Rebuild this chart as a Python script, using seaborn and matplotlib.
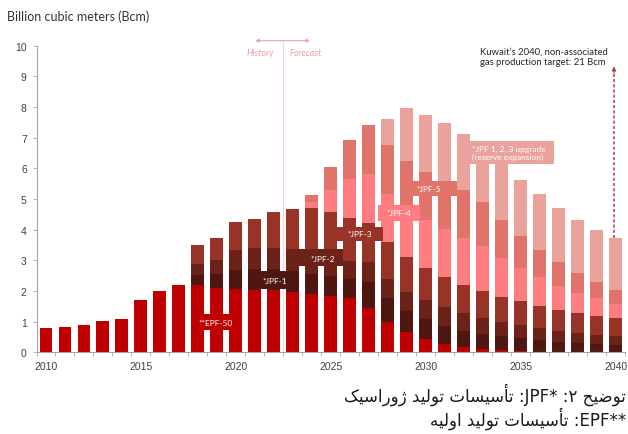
import numpy as np
import pandas as pd
import matplotlib
matplotlib.use("Agg")
import matplotlib.pyplot as plt
from matplotlib.patches import Rectangle
import seaborn as sns

# ---------------------------------------------------------------------------
# Kuwait non-associated gas production by facility, billion cubic meters
# ---------------------------------------------------------------------------
years = [2010, 2011, 2012, 2013, 2014, 2015, 2016, 2017, 2018, 2019, 2020,
         2021, 2022, 2023, 2024, 2025, 2026, 2027, 2028, 2029, 2030,
         2031, 2032, 2033, 2034, 2035, 2036, 2037, 2038, 2039, 2040]

epf_50 = [0.79, 0.83, 0.88, 1.03, 1.07, 1.72, 2.01, 2.21, 2.19, 2.10, 2.06,
          2.04, 2.03, 1.98, 1.90, 1.84, 1.76, 1.43, 0.98, 0.65, 0.43,
          0.27, 0.18, 0.11, 0.08, 0.04, 0.02, 0.00, 0.00, 0.00, 0.00]
jpf_1 = [0, 0, 0, 0, 0, 0, 0, 0, 0.33, 0.44, 0.62,
         0.68, 0.69, 0.64, 0.65, 0.65, 0.63, 0.85, 0.78, 0.71, 0.66,
         0.60, 0.53, 0.49, 0.44, 0.42, 0.38, 0.35, 0.30, 0.27, 0.24]
jpf_2 = [0, 0, 0, 0, 0, 0, 0, 0, 0.36, 0.47, 0.66,
         0.69, 0.69, 0.75, 0.70, 0.61, 0.60, 0.65, 0.63, 0.62, 0.62,
         0.60, 0.57, 0.51, 0.48, 0.43, 0.39, 0.36, 0.32, 0.30, 0.30]
jpf_3 = [0, 0, 0, 0, 0, 0, 0, 0, 0.61, 0.73, 0.92,
         0.93, 1.16, 1.29, 1.46, 1.48, 1.39, 1.29, 1.20, 1.12, 1.03,
         0.98, 0.91, 0.88, 0.81, 0.77, 0.73, 0.68, 0.66, 0.62, 0.57]
jpf_4 = [0, 0, 0, 0, 0, 0, 0, 0, 0, 0, 0,
         0, 0, 0, 0.19, 0.72, 1.27, 1.58, 1.57, 1.60, 1.58,
         1.57, 1.54, 1.49, 1.26, 1.08, 0.92, 0.76, 0.65, 0.57, 0.46]
jpf_5 = [0, 0, 0, 0, 0, 0, 0, 0, 0, 0, 0,
         0, 0, 0, 0.22, 0.73, 1.28, 1.61, 1.60, 1.55, 1.57,
         1.58, 1.56, 1.43, 1.25, 1.06, 0.91, 0.78, 0.66, 0.53, 0.46]
jpf_upgrade = [0, 0, 0, 0, 0, 0, 0, 0, 0, 0, 0,
               0, 0, 0, 0, 0, 0, 0, 0.85, 1.70, 1.85,
               1.87, 1.84, 1.89, 1.98, 1.82, 1.80, 1.76, 1.73, 1.70, 1.69]

tick_years = ["2010", "2015", "2020", "2025", "2030", "2035", "2040"]
y_ticks = [0, 1, 2, 3, 4, 5, 6, 7, 8, 9, 10]

# stacking order, bottom to top
layers = [
    ("epf_50", epf_50, "#c00000"),
    ("jpf_1", jpf_1, "#4f1711"),
    ("jpf_2", jpf_2, "#6d2219"),
    ("jpf_3", jpf_3, "#983427"),
    ("jpf_4", jpf_4, "#ff7c80"),
    ("jpf_5", jpf_5, "#e0736a"),
    ("jpf_upgrade", jpf_upgrade, "#e9a29c"),
]

# ---------------------------------------------------------------------------
# Persian caption helpers (matplotlib has no Arabic-script shaping / bidi)
# ---------------------------------------------------------------------------
FORMS = {  # isolated, final, initial, medial
    "ا": ("\uFE8D", "\uFE8E", None, None),
    "أ": ("\uFE83", "\uFE84", None, None),
    "د": ("\uFEA9", "\uFEAA", None, None),
    "ر": ("\uFEAD", "\uFEAE", None, None),
    "ژ": ("\uFB8A", "\uFB8B", None, None),
    "و": ("\uFEED", "\uFEEE", None, None),
    "ت": ("\uFE95", "\uFE96", "\uFE97", "\uFE98"),
    "ح": ("\uFEA1", "\uFEA2", "\uFEA3", "\uFEA4"),
    "س": ("\uFEB1", "\uFEB2", "\uFEB3", "\uFEB4"),
    "ض": ("\uFEBD", "\uFEBE", "\uFEBF", "\uFEC0"),
    "ل": ("\uFEDD", "\uFEDE", "\uFEDF", "\uFEE0"),
    "ه": ("\uFEE9", "\uFEEA", "\uFEEB", "\uFEEC"),
    "ک": ("\uFB8E", "\uFB8F", "\uFB90", "\uFB91"),
    "ی": ("\uFBFC", "\uFBFD", "\uFBFE", "\uFBFF"),
}


def shape_word(word):
    out = []
    for i, ch in enumerate(word):
        if ch not in FORMS:
            out.append(ch)
            continue
        iso, fin, ini, med = FORMS[ch]
        prev = word[i - 1] if i > 0 else None
        nxt = word[i + 1] if i + 1 < len(word) else None
        join_prev = prev in FORMS and FORMS[prev][2] is not None
        join_next = ini is not None and nxt in FORMS
        if join_prev and join_next:
            out.append(med)
        elif join_prev:
            out.append(fin)
        elif join_next:
            out.append(ini)
        else:
            out.append(iso)
    return "".join(reversed(out))


def rtl_line(text):
    visual = []
    for tok in text.split(" "):
        core = tok.strip("*:")
        lead = tok[: len(tok) - len(tok.lstrip("*:"))]
        trail = tok[len(tok.rstrip("*:")):]
        if any(c in FORMS for c in core) or not core.isascii():
            core = shape_word(core)
        visual.append(trail[::-1] + core + lead[::-1])
    return " ".join(reversed(visual))


# ---------------------------------------------------------------------------
# Figure
# ---------------------------------------------------------------------------
sns.set_theme(style="ticks")
plt.rcParams["font.family"] = ["Liberation Sans", "DejaVu Sans"]

fig = plt.figure(figsize=(6.28, 4.35), dpi=100)
ax = fig.add_axes([36.5 / 628, (435 - 353.3) / 435,
                   (625 - 36.5) / 628, (353.3 - 46.6) / 435])

df = pd.DataFrame({"year": [str(y) for y in years]})
cum = np.cumsum(np.array([vals for _, vals, _ in layers], dtype=float), axis=0)

# draw cumulative totals from the top layer down so each layer sits on the one below
for i in reversed(range(len(layers))):
    name, _, color = layers[i]
    df[name] = cum[i]
    sns.barplot(data=df, x="year", y=name, color=color, saturation=1,
                width=0.68, linewidth=0, errorbar=None, ax=ax, zorder=2)

ax.set_xlim(-0.48, 30.49)
ax.set_ylim(0, 10)
ax.set_xlabel("")
ax.set_ylabel("")

ax.set_yticks(y_ticks)
ax.set_yticklabels([str(v) for v in y_ticks])
ax.set_xticks([years.index(int(t)) for t in tick_years])
ax.set_xticklabels(tick_years)
ax.set_xticks(np.arange(-0.5, len(years), 1.0), minor=True)

axis_grey = "#a6a6a6"
ax.tick_params(axis="x", which="major", length=0, pad=6, labelsize=7.5,
               labelcolor="#404040")
ax.tick_params(axis="x", which="minor", length=3, width=0.6, color=axis_grey,
               direction="out")
ax.tick_params(axis="y", which="major", length=3, width=0.6, color=axis_grey,
               pad=4, labelsize=7.5, labelcolor="#404040")
for side in ("top", "right"):
    ax.spines[side].set_visible(False)
for side in ("left", "bottom"):
    ax.spines[side].set_color(axis_grey)
    ax.spines[side].set_linewidth(0.8)

# facility labels
label_font = dict(family="Lato", fontsize=6, color="white", zorder=6)
boxes = [
    # x0, x1, y0, y1, colour, text, text_x, text_y
    (7.96, 9.86, 0.74, 1.25, "#c00000", "**EPF-50", 8.94, 0.98),
    (10.66, 13.35, 2.07, 2.64, "#4f1711", "*JPF-1", 12.07, 2.34),
    (13.0, 15.65, 2.80, 3.37, "#6d2219", "*JPF-2", 14.58, 3.07),
    (15.35, 17.77, 3.63, 4.08, "#983427", "*JPF-3", 16.54, 3.86),
    (17.50, 19.70, 4.29, 4.80, "#ff7c80", "*JPF-4", 18.61, 4.55),
    (18.65, 21.63, 5.09, 5.60, "#e0736a", "*JPF-5", 20.14, 5.35),
]
for x0, x1, y0, y1, c, txt, tx, ty in boxes:
    ax.add_patch(Rectangle((x0, y0), x1 - x0, y1 - y0, facecolor=c,
                           edgecolor="none", zorder=5))
    ax.text(tx, ty, txt, ha="center", va="center", **label_font)

ax.add_patch(Rectangle((22.16, 6.14), 26.75 - 22.16, 6.90 - 6.14,
                       facecolor="#e9a29c", edgecolor="none", zorder=5))
ax.text(22.42, 6.52, "*JPF 1, 2, 3 upgrade\n(reserve expansion)", ha="left",
        va="center", linespacing=1.25, **label_font)

# history / forecast divider
div_y = 10.16
ax.plot([12.5, 12.5], [0, div_y], color="#f7d2d2", lw=0.8, zorder=1,
        clip_on=False)
for x_end in (11.02, 13.91):
    ax.annotate("", xy=(x_end, div_y), xytext=(12.5, div_y),
                arrowprops=dict(arrowstyle="-|>", color="#f2a3a3", lw=0.8,
                                mutation_scale=5, shrinkA=0, shrinkB=0),
                annotation_clip=False)
ax.text(11.28, 9.76, "History", style="italic", family="Lato", fontsize=6.5,
        color="#f19c9c", ha="center", va="center")
ax.text(13.66, 9.76, "Forecast", style="italic", family="Lato", fontsize=6.5,
        color="#f19c9c", ha="center", va="center")

# 2040 target annotation
arrow_x = 29.92
total_2040 = cum[-1][-1]
ax.plot([arrow_x, arrow_x], [total_2040, 9.15], color="#b83a3a", lw=1.1,
        linestyle=(0, (2, 1.4)), zorder=4, clip_on=False)
ax.annotate("", xy=(arrow_x, 9.32), xytext=(arrow_x, 9.1),
            arrowprops=dict(arrowstyle="-|>", color="#b83a3a", lw=0.8,
                            mutation_scale=6, shrinkA=0, shrinkB=0),
            annotation_clip=False)
ax.text(22.84, 9.65, "Kuwait\u2019s 2040, non-associated\ngas production target: 21 Bcm",
        ha="left", va="center", family="Lato", fontsize=6.8, color="#262626",
        linespacing=1.2)

fig.text(7 / 628, 1 - 17 / 435, "Billion cubic meters (Bcm)", family="Lato",
         fontsize=9, color="#333333", ha="left", va="center")

# Persian footnotes
caption_1 = "توضیح ۲: *JPF: تأسیسات تولید ژوراسیک"
caption_2 = "**EPF: تأسیسات تولید اولیه"
fig.text(626 / 628, 1 - 395 / 435, rtl_line(caption_1), family="DejaVu Sans",
         fontsize=12, color="#1a1a1a", ha="right", va="center")
fig.text(626 / 628, 1 - 419 / 435, rtl_line(caption_2), family="DejaVu Sans",
         fontsize=12, color="#1a1a1a", ha="right", va="center")

fig.savefig("out.png", dpi=100)
